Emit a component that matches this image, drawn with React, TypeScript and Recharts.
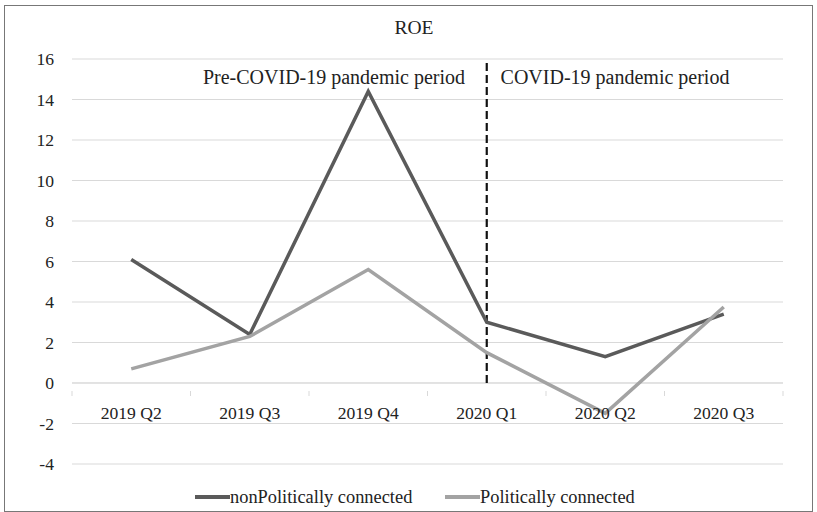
import React from 'react';
import { LineChart, Line, XAxis, YAxis, CartesianGrid, ReferenceLine, Legend } from 'recharts';

const categories = ['2019 Q2', '2019 Q3', '2019 Q4', '2020 Q1', '2020 Q2', '2020 Q3'];
const nonPolitical = [6.1, 2.4, 14.4, 3.0, 1.3, 3.4];
const political = [0.7, 2.3, 5.6, 1.5, -1.5, 3.75];
const yTicks = [-4, -2, 0, 2, 4, 6, 8, 10, 12, 14, 16];
const title = 'ROE';
const preLabel = 'Pre-COVID-19 pandemic period';
const covidLabel = 'COVID-19 pandemic period';
const seriesNames = ['nonPolitically connected', 'Politically connected'];

const data = categories.map((c, i) => ({ cat: c, nonPol: nonPolitical[i], pol: political[i] }));

const FONT = '"Liberation Serif", "Times New Roman", serif';
const W = 817;
const H = 512;
const LEG_H = 30;
const XH = 1;
const M = { top: 59, right: 34, bottom: 48 - LEG_H - XH, left: 0 };
const YW = 72;
const plotW = W - M.left - M.right - YW;
const plotH = H - 59 - 48;
const band = plotW / categories.length;
const zeroShift = (plotH * (0 - yTicks[0])) / (yTicks[yTicks.length - 1] - yTicks[0]);
const TICK_FS = 17.6;

const CatTick = (props: any) => {
  const { x, y, payload, index } = props;
  const y0 = y - zeroShift;
  return (
    <g>
      <line x1={x - band / 2} x2={x - band / 2} y1={y0} y2={y0 + 5} stroke="#d9d9d9" strokeWidth={1} />
      {index === categories.length - 1 && (
        <line x1={x + band / 2} x2={x + band / 2} y1={y0} y2={y0 + 5} stroke="#d9d9d9" strokeWidth={1} />
      )}
      <text x={x} y={y0 + 28} textAnchor="middle" style={{ fontFamily: FONT }} fontSize={TICK_FS} fill="#222">
        {payload.value}
      </text>
    </g>
  );
};

const ValTick = (props: any) => {
  const { x, y, payload } = props;
  return (
    <text x={x} y={y + 6} textAnchor="end" style={{ fontFamily: FONT }} fontSize={TICK_FS} fill="#222">
      {payload.value}
    </text>
  );
};

const LegendContent = () => {
  const items = [
    { name: seriesNames[0], color: '#5a5a5a', x: 195, tx: 230 },
    { name: seriesNames[1], color: '#a3a3a3', x: 445, tx: 480 },
  ];
  return (
    <svg width={W} height={LEG_H} style={{ display: 'block' }}>
      {items.map((it) => (
        <g key={it.name}>
          <line x1={it.x} x2={it.x + 35} y1={15} y2={15} stroke={it.color} strokeWidth={4} />
          <text x={it.tx} y={21} style={{ fontFamily: FONT }} fontSize={18.4} fill="#222">
            {it.name}
          </text>
        </g>
      ))}
    </svg>
  );
};

export default function App() {
  return (
    <div
      style={{
        position: 'absolute',
        left: 0,
        top: 0,
        width: W,
        height: H,
        background: '#fff',
        fontFamily: FONT,
      }}
    >
      <div
        style={{
          position: 'absolute',
          left: 4,
          top: 5,
          width: W - 8,
          height: H - 5,
          border: '1.5px solid #777',
          boxSizing: 'border-box',
          pointerEvents: 'none',
        }}
      />
      <LineChart width={W} height={H} data={data} margin={M} style={{ fontFamily: FONT }}>
        <text x={414} y={34} textAnchor="middle" style={{ fontFamily: FONT }} fontSize={19.5} fill="#222">
          {title}
        </text>
        <text x={334} y={84} textAnchor="middle" style={{ fontFamily: FONT }} fontSize={20} fill="#222">
          {preLabel}
        </text>
        <text x={615} y={84} textAnchor="middle" style={{ fontFamily: FONT }} fontSize={20} fill="#222">
          {covidLabel}
        </text>
        <CartesianGrid horizontal vertical={false} stroke="#d9d9d9" strokeWidth={1} />
        <XAxis
          dataKey="cat"
          scale="band"
          axisLine={false}
          tickLine={false}
          tick={<CatTick />}
          interval={0}
          height={XH}
        />
        <YAxis
          domain={[yTicks[0], yTicks[yTicks.length - 1]]}
          ticks={yTicks}
          width={YW}
          axisLine={false}
          tickLine={false}
          tickMargin={12}
          tick={<ValTick />}
          interval={0}
        />
        <ReferenceLine y={0} stroke="#d9d9d9" strokeWidth={1} />
        <ReferenceLine
          segment={[
            { x: categories[3], y: 0 },
            { x: categories[3], y: yTicks[yTicks.length - 1] },
          ]}
          stroke="#111"
          strokeWidth={2.2}
          strokeDasharray="8 4"
        />
        <Line
          type="linear"
          dataKey="nonPol"
          name={seriesNames[0]}
          stroke="#5a5a5a"
          strokeWidth={3.5}
          dot={false}
          isAnimationActive={false}
        />
        <Line
          type="linear"
          dataKey="pol"
          name={seriesNames[1]}
          stroke="#a3a3a3"
          strokeWidth={3.5}
          dot={false}
          isAnimationActive={false}
        />
        <Legend
          verticalAlign="bottom"
          height={LEG_H}
          content={<LegendContent />}
          wrapperStyle={{ left: 0, bottom: 0, width: W, height: LEG_H }}
        />
      </LineChart>
    </div>
  );
}
